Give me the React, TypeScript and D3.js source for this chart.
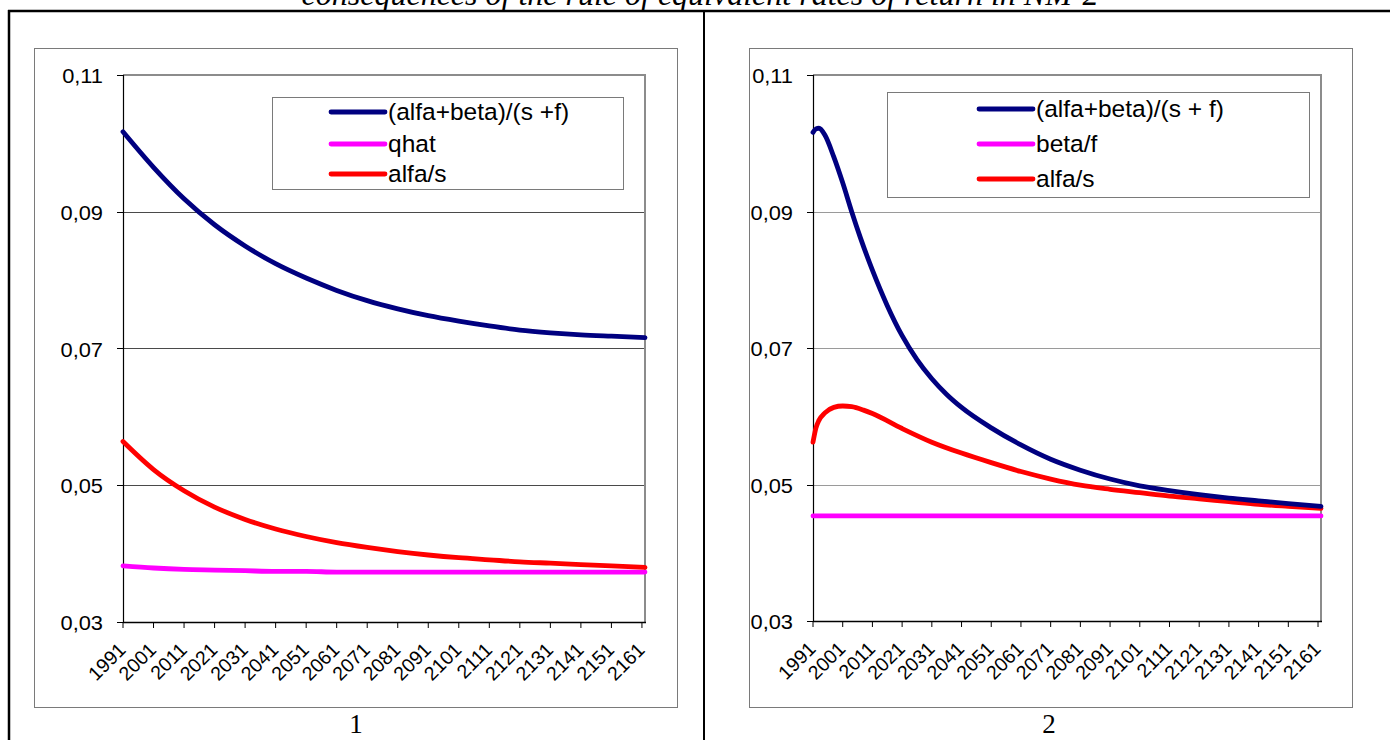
import React from "react";
import * as d3 from "d3";

// ---------- data ----------
const tickYears = [1991, 2001, 2011, 2021, 2031, 2041, 2051, 2061, 2071, 2081, 2091, 2101, 2111, 2121, 2131, 2141, 2151, 2161];
const yTickValues = [0.03, 0.05, 0.07, 0.09, 0.11];

// Chart 1
const yearsL = [1991, 2001, 2011, 2021, 2031, 2041, 2051, 2061, 2071, 2081, 2091, 2101, 2111, 2121, 2131, 2141, 2151, 2162];
const leftTotal = [0.1017, 0.0965, 0.0919, 0.0881, 0.0850, 0.0824, 0.0803, 0.0785, 0.0770, 0.0758, 0.0748, 0.0740, 0.0733, 0.0727, 0.0723, 0.0720, 0.0718, 0.0716];
const leftQhat = [0.0382, 0.0379, 0.0377, 0.0376, 0.0375, 0.0374, 0.0374, 0.0373, 0.0373, 0.0373, 0.0373, 0.0373, 0.0373, 0.0373, 0.0373, 0.0373, 0.0373, 0.0373];
const leftAlfaS = [0.0564, 0.0523, 0.0492, 0.0468, 0.0450, 0.0436, 0.0425, 0.0416, 0.0409, 0.0403, 0.0398, 0.0394, 0.0391, 0.0388, 0.0386, 0.0384, 0.0382, 0.0380];

// Chart 2
const yearsRTotal = [1991, 1992, 1993, 1995, 1998, 2001, 2004, 2007, 2011, 2016, 2021, 2026, 2031, 2036, 2041, 2051, 2061, 2071, 2081, 2091, 2101, 2111, 2121, 2131, 2141, 2151, 2162];
const rightTotal = [0.1016, 0.1021, 0.1022, 0.1012, 0.0980, 0.0942, 0.0900, 0.0861, 0.0814, 0.0762, 0.0718, 0.0683, 0.0655, 0.0632, 0.0613, 0.0583, 0.0558, 0.0537, 0.0521, 0.0508, 0.0498, 0.0491, 0.0485, 0.0480, 0.0476, 0.0472, 0.0468];
const yearsRBeta = [1991, 2162];
const rightBetaF = [0.0454, 0.0454];
const yearsRAlfa = [1991, 1992, 1993, 1995, 1998, 2001, 2004, 2008, 2011, 2021, 2031, 2041, 2051, 2061, 2071, 2081, 2091, 2101, 2111, 2121, 2131, 2141, 2151, 2162];
const rightAlfaS = [0.0562, 0.0583, 0.0594, 0.0605, 0.0613, 0.0615, 0.0614, 0.0609, 0.0604, 0.0582, 0.0562, 0.0546, 0.0532, 0.0519, 0.0508, 0.0499, 0.0493, 0.0488, 0.0483, 0.0479, 0.0475, 0.0471, 0.0468, 0.0465];

const legendLeft = ["(alfa+beta)/(s +f)", "qhat", "alfa/s"];
const legendRight = ["(alfa+beta)/(s + f)", "beta/f", "alfa/s"];
const seriesColors = ["#000080", "#FF00FF", "#FF0000"];

const titleText = "consequences of the rule of equivalent rates of return in NM-2";
const captions = ["1", "2"];

// ---------- layout ----------
const FONT = "'Liberation Sans', Arial, sans-serif";
const SERIF = "'Liberation Serif', 'Times New Roman', serif";
const SX = 1.12; // horizontal stretch of axis text

type Panel = {
  chart: [number, number, number, number];
  plot: [number, number, number, number];
  legend: [number, number, number, number];
  legendLine: [number, number];
  legendRows: number[];
  gridColor: string;
  labels: string[];
  series: { years: number[]; values: number[]; color: string }[];
  captionX: number;
  caption: string;
};

const panels: Panel[] = [
  {
    chart: [34, 48, 677, 707],
    plot: [123, 75, 645, 622],
    legend: [272, 97, 623, 189],
    legendLine: [331, 385],
    legendRows: [112, 144, 174],
    gridColor: "#4a4a4a",
    labels: legendLeft,
    series: [
      { years: yearsL, values: leftQhat, color: seriesColors[1] },
      { years: yearsL, values: leftAlfaS, color: seriesColors[2] },
      { years: yearsL, values: leftTotal, color: seriesColors[0] },
    ],
    captionX: 356,
    caption: captions[0],
  },
  {
    chart: [749, 48, 1352, 707],
    plot: [813, 75, 1321, 621],
    legend: [887, 92, 1309, 197],
    legendLine: [979, 1033],
    legendRows: [109, 144, 179],
    gridColor: "#9a9a9a",
    labels: legendRight,
    series: [
      { years: yearsRBeta, values: rightBetaF, color: seriesColors[1] },
      { years: yearsRAlfa, values: rightAlfaS, color: seriesColors[2] },
      { years: yearsRTotal, values: rightTotal, color: seriesColors[0] },
    ],
    captionX: 1049,
    caption: captions[1],
  },
];

function ChartPanel({ p }: { p: Panel }) {
  const [px0, py0, px1, py1] = p.plot;
  const x = d3.scaleLinear().domain([1991, 2162]).range([px0, px1]);
  const y = d3.scaleLinear().domain([0.03, 0.11]).range([py1, py0]);
  const fmt = (v: number) => d3.format(".2f")(v).replace(".", ",");
  const [cx0, cy0, cx1, cy1] = p.chart;
  const [lx0, ly0, lx1, ly1] = p.legend;
  const line = d3
    .line<[number, number]>()
    .x((d) => x(d[0]))
    .y((d) => y(d[1]))
    .curve(d3.curveMonotoneX);
  return (
    <g>
      <rect x={cx0 + 0.5} y={cy0 + 0.5} width={cx1 - cx0} height={cy1 - cy0} fill="#fff" stroke="#7a7a7a" strokeWidth={1} />
      {/* gridlines */}
      {yTickValues.filter((v) => v > 0.03 && v < 0.11).map((v) => (
        <line key={v} x1={px0} x2={px1} y1={Math.round(y(v)) + 0.5} y2={Math.round(y(v)) + 0.5} stroke={p.gridColor} strokeWidth={1} />
      ))}
      {/* plot area border top/right */}
      <line x1={px0} x2={px1 + 1} y1={py0} y2={py0} stroke="#8c8c8c" strokeWidth={2} />
      <line x1={px1} x2={px1} y1={py0} y2={py1} stroke="#8c8c8c" strokeWidth={2} />
      {/* y axis */}
      <line x1={px0 + 0.5} x2={px0 + 0.5} y1={py0} y2={py1} stroke="#000" strokeWidth={1.2} />
      {yTickValues.map((v) => (
        <g key={v}>
          <line x1={px0 - 6} x2={px0} y1={Math.round(y(v)) + 0.5} y2={Math.round(y(v)) + 0.5} stroke="#000" strokeWidth={1} />
          <text transform={`translate(${px0 - 20},${y(v) + 8}) scale(${SX},1)`} textAnchor="end" fontFamily={FONT} fontSize={19.5} fill="#000">
            {fmt(v)}
          </text>
        </g>
      ))}
      {/* x axis */}
      <line x1={px0} x2={px1 + 1} y1={py1 + 0.5} y2={py1 + 0.5} stroke="#000" strokeWidth={1.5} />
      {tickYears.map((t) => (
        <g key={t}>
          <line x1={x(t)} x2={x(t)} y1={py1} y2={py1 + 6} stroke="#000" strokeWidth={1} />
          <text transform={`translate(${x(t) + 4},${py1 + 29}) rotate(-45)`} textAnchor="end" fontFamily={FONT} fontSize={19.5} fill="#000">
            {t}
          </text>
        </g>
      ))}
      {/* series */}
      {p.series.map((s, i) => {
        const pts: [number, number][] = s.years.map((yr, j) => [yr, s.values[j]]);
        return <path key={i} d={line(pts) || ""} fill="none" stroke={s.color} strokeWidth={4.8} strokeLinejoin="round" strokeLinecap="round" />;
      })}
      {/* legend */}
      <rect x={lx0 + 0.5} y={ly0 + 0.5} width={lx1 - lx0} height={ly1 - ly0} fill="#fff" stroke="#7a7a7a" strokeWidth={1} />
      {p.labels.map((lab, i) => (
        <g key={lab}>
          <line x1={p.legendLine[0]} x2={p.legendLine[1]} y1={p.legendRows[i]} y2={p.legendRows[i]} stroke={seriesColors[i]} strokeWidth={4.8} strokeLinecap="round" />
          <text x={p.legendLine[1] + 3} y={p.legendRows[i] + 8} fontFamily={FONT} fontSize={24.5} fill="#000">
            {lab}
          </text>
        </g>
      ))}
      <text x={p.captionX} y={733} textAnchor="middle" fontFamily={SERIF} fontSize={27} fill="#000">
        {p.caption}
      </text>
    </g>
  );
}

export default function App() {
  return (
    <svg width={1390} height={740} style={{ position: "absolute", left: 0, top: 0, background: "#fff" }}>
      <rect x={0} y={0} width={1390} height={740} fill="#fff" />
      <text x={700} y={5} textAnchor="middle" fontFamily={SERIF} fontStyle="italic" fontSize={32} fill="#000">
        {titleText}
      </text>
      {/* table frame */}
      <line x1={8} x2={1390} y1={11} y2={11} stroke="#000" strokeWidth={2.5} />
      <line x1={9} x2={9} y1={10} y2={740} stroke="#000" strokeWidth={2.5} />
      <line x1={704} x2={704} y1={10} y2={740} stroke="#000" strokeWidth={2} />
      {panels.map((p, i) => (
        <ChartPanel key={i} p={p} />
      ))}
    </svg>
  );
}
